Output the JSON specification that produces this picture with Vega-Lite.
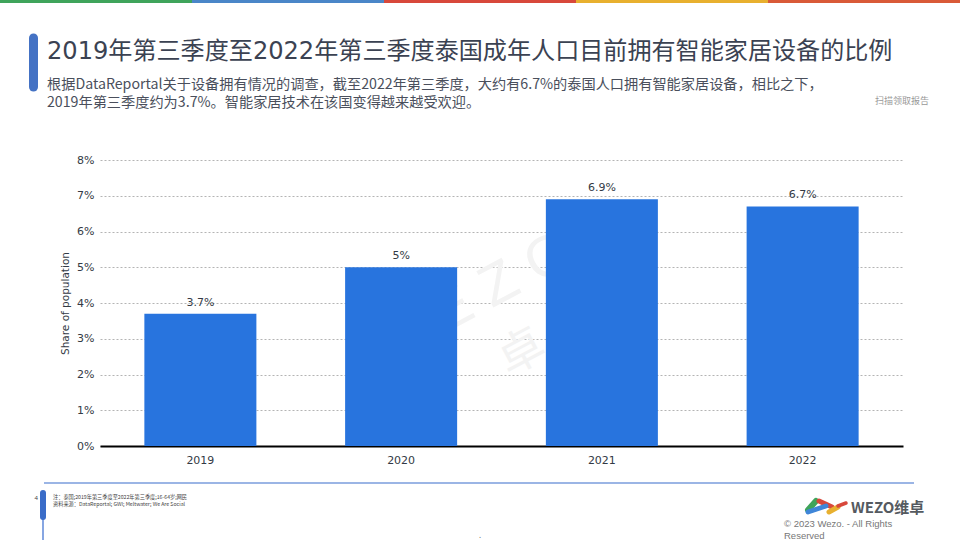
{
  "$schema": "https://vega.github.io/schema/vega-lite/v5.json",
  "width": 803,
  "height": 286,
  "autosize": "none",
  "padding": {"left": 100, "top": 160, "right": 57, "bottom": 94},
  "background": "#ffffff",
  "title": {
    "text": "2019年第三季度至2022年第三季度泰国成年人口目前拥有智能家居设备的比例",
    "subtitle": [
      "根据DataReportal关于设备拥有情况的调查，截至2022年第三季度，大约有6.7%的泰国人口拥有智能家居设备，相比之下，",
      "2019年第三季度约为3.7%。智能家居技术在该国变得越来越受欢迎。"
    ],
    "anchor": "start",
    "frame": "group",
    "dx": -53,
    "offset": -110,
    "font": "DejaVu Sans, Noto Sans CJK SC",
    "fontSize": 24.1,
    "fontWeight": "normal",
    "color": "#3b4252",
    "subtitleFont": "Noto Sans CJK SC",
    "subtitleFontSize": 14.2,
    "subtitleColor": "#4a4f5c",
    "subtitleLineHeight": 18,
    "subtitlePadding": 14
  },
  "config": {"view": {"stroke": null}},
  "resolve": {"scale": {"x": "independent", "y": "independent", "color": "independent"}},
  "layer": [
    {
      "data": {"values": [{"stripe": "a"}, {"stripe": "b"}, {"stripe": "c"}, {"stripe": "d"}, {"stripe": "e"}]},
      "mark": {"type": "rect"},
      "encoding": {
        "x": {"field": "stripe", "type": "nominal", "axis": null, "scale": {"range": [-100, 860], "paddingInner": 0, "paddingOuter": 0}},
        "y": {"datum": 0, "type": "quantitative", "axis": null, "scale": {"domain": [0, 540], "range": [-160, 380]}},
        "y2": {"datum": 3},
        "color": {"field": "stripe", "type": "nominal", "legend": null, "scale": {"domain": ["a", "b", "c", "d", "e"], "range": ["#3fa45b", "#4a86c8", "#d8483b", "#e8b02f", "#d95a38"]}}
      }
    },
    {
      "encoding": {
        "x": {"type": "quantitative", "axis": null, "scale": {"domain": [0, 960], "range": [-100, 860]}},
        "y": {"type": "quantitative", "axis": null, "scale": {"domain": [0, 540], "range": [-160, 380]}}
      },
      "layer": [
        {
          "data": {"values": [{"label": "W E Z O"}]},
          "mark": {"type": "text", "font": "Liberation Sans", "fontSize": 58, "angle": -28, "color": "#f3f3f3", "align": "center", "baseline": "middle"},
          "encoding": {"x": {"datum": 471}, "y": {"datum": 300}, "text": {"field": "label"}}
        },
        {
          "data": {"values": [{"label": "卓"}]},
          "mark": {"type": "text", "font": "Noto Sans CJK SC", "fontSize": 46, "angle": -28, "color": "#f3f3f3", "align": "center", "baseline": "middle"},
          "encoding": {"x": {"datum": 522}, "y": {"datum": 353}, "text": {"field": "label"}}
        },
        {
          "data": {"values": [{"label": "扫描领取报告"}]},
          "mark": {"type": "text", "font": "Noto Sans CJK SC", "fontSize": 9, "color": "#999999", "align": "right", "baseline": "middle"},
          "encoding": {"x": {"datum": 929}, "y": {"datum": 101}, "text": {"field": "label"}}
        },
        {
          "data": {"values": [{"part": "title accent"}]},
          "mark": {"type": "rule", "strokeWidth": 9, "strokeCap": "round", "color": "#4472c4"},
          "encoding": {"x": {"datum": 33.5}, "y": {"datum": 38}, "y2": {"datum": 87}}
        },
        {
          "data": {"values": [{"part": "footer line"}]},
          "mark": {"type": "rule", "strokeWidth": 1.5, "color": "#7a9cdc"},
          "encoding": {"x": {"datum": 44}, "x2": {"datum": 914}, "y": {"datum": 483}}
        },
        {
          "data": {"values": [{"part": "footer stem"}]},
          "mark": {"type": "rule", "strokeWidth": 1.5, "color": "#5f88d8"},
          "encoding": {"x": {"datum": 43}, "y": {"datum": 515}, "y2": {"datum": 540}}
        },
        {
          "data": {"values": [{"part": "footer accent"}]},
          "mark": {"type": "rule", "strokeWidth": 6, "strokeCap": "round", "color": "#3a6cc8"},
          "encoding": {"x": {"datum": 43}, "y": {"datum": 493}, "y2": {"datum": 517}}
        },
        {
          "data": {"values": [{"label": "4"}]},
          "mark": {"type": "text", "font": "Noto Sans", "fontSize": 6, "color": "#444444", "align": "right", "baseline": "middle"},
          "encoding": {"x": {"datum": 38}, "y": {"datum": 498}, "text": {"field": "label"}}
        },
        {
          "data": {"values": [{"label": "注：泰国;2019年第三季度至2022年第三季度;16-64岁;网民"}]},
          "mark": {"type": "text", "font": "Noto Sans CJK SC", "fontSize": 5.2, "color": "#444444", "align": "left", "baseline": "middle"},
          "encoding": {"x": {"datum": 53}, "y": {"datum": 497}, "text": {"field": "label"}}
        },
        {
          "data": {"values": [{"label": "资料来源：DataReportal; GWI; Meltwater; We Are Social"}]},
          "mark": {"type": "text", "font": "Noto Sans CJK SC", "fontSize": 5.2, "color": "#444444", "align": "left", "baseline": "middle"},
          "encoding": {"x": {"datum": 53}, "y": {"datum": 504}, "text": {"field": "label"}}
        },
        {
          "data": {"values": [{"label": "."}]},
          "mark": {"type": "text", "font": "Noto Sans", "fontSize": 8, "color": "#666666", "align": "center"},
          "encoding": {"x": {"datum": 480}, "y": {"datum": 536}, "text": {"field": "label"}}
        },
        {
          "data": {"values": [{"part": "logo green"}]},
          "mark": {"type": "rule", "strokeWidth": 6, "strokeCap": "round", "color": "#3fa45b"},
          "encoding": {"x": {"datum": 808}, "x2": {"datum": 816}, "y": {"datum": 510}, "y2": {"datum": 501}}
        },
        {
          "data": {"values": [{"part": "logo red"}]},
          "mark": {"type": "rule", "strokeWidth": 5, "strokeCap": "round", "color": "#d8483b"},
          "encoding": {"x": {"datum": 819}, "x2": {"datum": 832}, "y": {"datum": 501}, "y2": {"datum": 507}}
        },
        {
          "data": {"values": [{"part": "logo blue"}]},
          "mark": {"type": "rule", "strokeWidth": 5, "strokeCap": "round", "color": "#3f86d8"},
          "encoding": {"x": {"datum": 808}, "x2": {"datum": 826}, "y": {"datum": 512}, "y2": {"datum": 506}}
        },
        {
          "data": {"values": [{"part": "logo yellow"}]},
          "mark": {"type": "rule", "strokeWidth": 5, "strokeCap": "round", "color": "#e8b02f"},
          "encoding": {"x": {"datum": 829}, "x2": {"datum": 838}, "y": {"datum": 512}, "y2": {"datum": 507}}
        },
        {
          "data": {"values": [{"part": "logo red tail"}]},
          "mark": {"type": "rule", "strokeWidth": 3.5, "strokeCap": "round", "color": "#d8483b"},
          "encoding": {"x": {"datum": 838}, "x2": {"datum": 846}, "y": {"datum": 506}, "y2": {"datum": 503}}
        },
        {
          "data": {"values": [{"label": "WEZO维卓"}]},
          "mark": {"type": "text", "font": "Noto Sans CJK SC", "fontSize": 15, "fontWeight": "bold", "color": "#555a60", "align": "left", "baseline": "middle"},
          "encoding": {"x": {"datum": 851}, "y": {"datum": 508}, "text": {"field": "label"}}
        },
        {
          "data": {"values": [{"label": "© 2023 Wezo. - All Rights"}]},
          "mark": {"type": "text", "font": "Liberation Sans", "fontSize": 9.5, "color": "#777777", "align": "left", "baseline": "middle"},
          "encoding": {"x": {"datum": 784}, "y": {"datum": 524}, "text": {"field": "label"}}
        },
        {
          "data": {"values": [{"label": "Reserved"}]},
          "mark": {"type": "text", "font": "Liberation Sans", "fontSize": 9.5, "color": "#777777", "align": "left", "baseline": "middle"},
          "encoding": {"x": {"datum": 784}, "y": {"datum": 536}, "text": {"field": "label"}}
        }
      ]
    },
    {
      "data": {
        "values": [
          {"year": "2019", "share": 0.037},
          {"year": "2020", "share": 0.05},
          {"year": "2021", "share": 0.069},
          {"year": "2022", "share": 0.067}
        ]
      },
      "encoding": {
        "x": {
          "field": "year",
          "type": "ordinal",
          "title": null,
          "scale": {"paddingInner": 0.442, "paddingOuter": 0.221},
          "axis": {
            "labelAngle": 0,
            "labelFont": "DejaVu Sans",
            "labelFontSize": 11,
            "labelColor": "#333a45",
            "labelPadding": 8,
            "domainColor": "#000000",
            "domainWidth": 2,
            "ticks": false
          }
        },
        "y": {
          "field": "share",
          "type": "quantitative",
          "title": "Share of population",
          "scale": {"domain": [0, 0.08], "nice": false},
          "axis": {
            "format": ".0%",
            "values": [0, 0.01, 0.02, 0.03, 0.04, 0.05, 0.06, 0.07, 0.08],
            "labelFont": "DejaVu Sans",
            "labelFontSize": 11,
            "labelColor": "#333a45",
            "labelPadding": 6,
            "ticks": false,
            "domain": false,
            "grid": true,
            "gridColor": "#b4b4b4",
            "gridDash": [2, 2],
            "gridWidth": 1,
            "titleFont": "DejaVu Sans",
            "titleFontSize": 10.5,
            "titleFontWeight": "normal",
            "titleColor": "#333a45",
            "titlePadding": 6
          }
        }
      },
      "layer": [
        {"mark": {"type": "bar", "color": "#2874de"}},
        {
          "mark": {"type": "text", "font": "DejaVu Sans", "fontSize": 11, "color": "#333a45", "baseline": "bottom", "dy": -6},
          "encoding": {"text": {"field": "share", "type": "quantitative", "format": ".1~%"}}
        }
      ]
    }
  ]
}
